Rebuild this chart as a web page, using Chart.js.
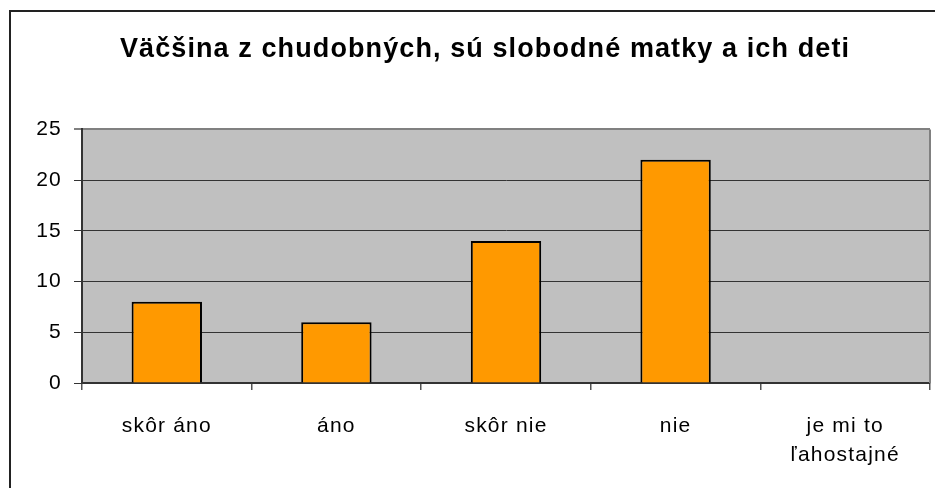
<!DOCTYPE html>
<html>
<head>
<meta charset="utf-8">
<script src="https://cdn.jsdelivr.net/npm/chart.js@4.4.0/dist/chart.umd.min.js"></script>
<style>
  html, body { margin: 0; padding: 0; background: #fff; }
  #wrap { width: 935px; height: 488px; }
</style>
</head>
<body>
<div id="wrap"><canvas id="chart" width="935" height="488"></canvas></div>
<script>
const nadpis = 'Väčšina z chudobných, sú slobodné matky a ich deti'
const kategorie = ['skôr áno', 'áno', 'skôr nie', 'nie', ['je mi to', 'ľahostajné']]
const hodnoty = [8, 6, 14, 22, 0]
const osY = [0, 5, 10, 15, 20, 25]

const pismo = 'Arial, "Liberation Sans", sans-serif'

// pozadie grafu, ramcek a rozostupy pismen
const vzhlad = {
    id: 'vzhlad',
    afterLayout(chart){
        // popisky osi y sa inak orezu na sirku osi
        chart.scales.y.left = 0
    },
    beforeDraw(chart){
        const ctx = chart.ctx
        const a = chart.chartArea
        ctx.letterSpacing = '1.1px'
        ctx.save()
        ctx.fillStyle = '#fff'
        ctx.fillRect(0, 0, chart.width, chart.height)
        ctx.strokeStyle = '#222'
        ctx.lineWidth = 2
        ctx.strokeRect(10, 11, 1000, 1000)
        ctx.fillStyle = '#C0C0C0'
        ctx.fillRect(a.left, a.top, a.right - a.left, a.bottom - a.top)
        ctx.restore()
    },
    afterDatasetsDraw(chart){
        chart.ctx.letterSpacing = '1.2px'
    },
    afterDraw(chart){
        const ctx = chart.ctx
        const a = chart.chartArea
        ctx.letterSpacing = '0px'
        ctx.save()
        ctx.strokeStyle = '#808080'
        ctx.lineWidth = 2
        ctx.beginPath()
        ctx.moveTo(a.right, a.top)
        ctx.lineTo(a.right, a.bottom)
        ctx.stroke()
        ctx.restore()
    }
}

const ctx = document.getElementById('chart').getContext('2d')
const graf = new Chart(ctx, {
    type: 'bar',
    data: {
        labels: kategorie,
        datasets: [{
            data: hodnoty,
            backgroundColor: '#FF9900',
            borderColor: '#000',
            borderWidth: 2,
            barPercentage: 0.415,
            categoryPercentage: 1
        }]
    },
    options: {
        responsive: false,
        animation: false,
        layout: { padding: { left: 40, right: 5, top: 0, bottom: 0 } },
        plugins: {
            legend: { display: false },
            tooltip: { enabled: false },
            title: {
                display: true,
                text: nadpis,
                color: '#000',
                font: { family: pismo, size: 27, weight: 'bold', lineHeight: 1.2 },
                padding: { top: 33, bottom: 64 }
            }
        },
        scales: {
            x: {
                afterFit(scale){ scale.height = 105 },
                grid: {
                    offset: true,
                    drawOnChartArea: false,
                    drawTicks: true,
                    tickLength: 7,
                    color: '#555',
                    lineWidth: 1.5
                },
                border: { color: '#333', width: 2 },
                ticks: {
                    z: 1,
                    color: '#000',
                    padding: 22,
                    font: { family: pismo, size: 21, lineHeight: 1.38 }
                }
            },
            y: {
                min: 0,
                max: 25,
                afterFit(scale){ scale.width = 42 },
                afterBuildTicks(scale){ scale.ticks = osY.map(v => ({ value: v })) },
                grid: {
                    color: c => c.tick && c.tick.value === 25 ? '#808080' : '#333',
                    lineWidth: c => c.tick && c.tick.value === 25 ? 2 : 1,
                    tickLength: 8
                },
                border: { color: '#333', width: 2 },
                ticks: {
                    z: 1,
                    color: '#000',
                    padding: 12,
                    font: { family: pismo, size: 21 }
                }
            }
        }
    },
    plugins: [vzhlad]
})
</script>
</body>
</html>
